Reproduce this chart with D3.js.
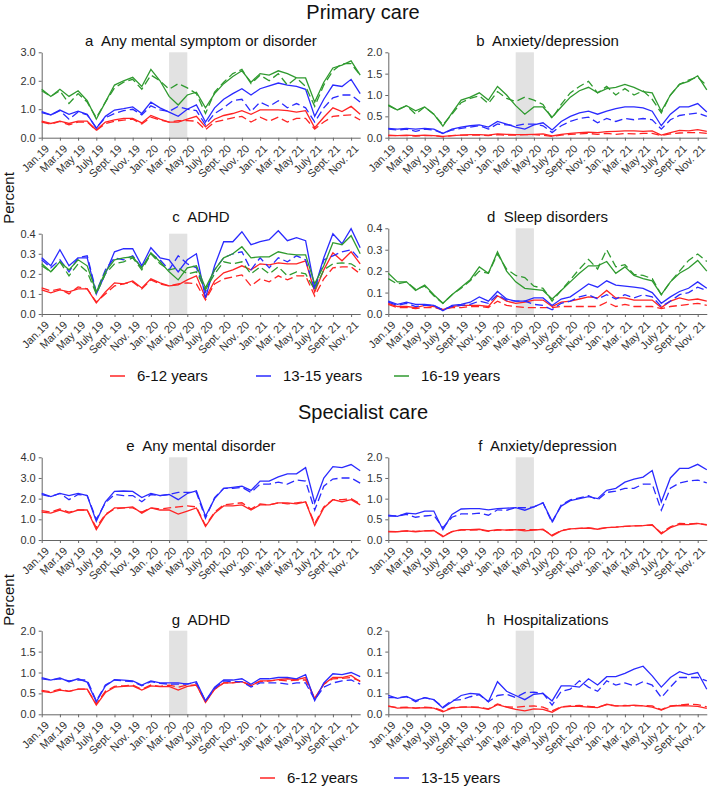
<!DOCTYPE html>
<html><head><meta charset="utf-8">
<script src="https://cdn.jsdelivr.net/npm/d3@7"></script>
<style>body{margin:0;background:#fff}svg{display:block;font-family:"Liberation Sans",Arial,sans-serif}</style>
</head><body><svg id="c" width="708" height="788"></svg>
<script>
// ---------- data ----------
const tickLabels = ["Jan.19","Mar.19","May 19","July 19","Sept. 19","Nov. 19","Jan. 20","Mar. 20","May 20","July 20","Sept. 20","Nov. 20","Jan. 21","Mar. 21","May 21","July 21","Sept. 21","Nov. 21"];
const groups = ["6-12 years","13-15 years","16-19 years"];
const groupColors = ["#ff2424","#2a2aff","#2f9a2f"];

// a Any mental symptom or disorder (primary care)
const a_red_obs = [0.58,0.50,0.58,0.50,0.58,0.58,0.27,0.55,0.63,0.68,0.68,0.52,0.78,0.65,0.55,0.55,0.65,0.75,0.38,0.65,0.78,0.85,0.95,0.82,0.98,0.98,0.98,0.95,0.90,0.95,0.35,0.72,1.05,0.92,1.10,0.82];
const a_red_exp = [0.55,0.48,0.57,0.45,0.55,0.55,0.25,0.50,0.58,0.62,0.65,0.48,0.72,0.62,0.55,0.60,0.60,0.58,0.28,0.55,0.62,0.70,0.75,0.55,0.72,0.58,0.72,0.55,0.68,0.68,0.30,0.55,0.75,0.78,0.80,0.62];
const a_blue_obs = [0.92,0.80,0.97,0.82,0.93,0.82,0.33,0.75,0.97,1.02,1.08,0.85,1.25,1.05,0.90,0.75,1.00,1.15,0.55,1.05,1.35,1.55,1.72,1.50,1.72,1.82,1.92,1.85,1.80,1.70,0.75,1.35,1.85,1.80,2.05,1.55];
const a_blue_exp = [0.88,0.80,0.95,0.65,0.90,0.80,0.35,0.70,0.85,0.95,1.00,0.80,1.12,0.98,0.92,1.10,1.00,0.95,0.45,0.85,1.05,1.30,1.35,0.92,1.25,1.10,1.30,1.05,1.20,1.05,0.55,1.05,1.40,1.50,1.50,1.25];
const a_green_obs = [1.70,1.45,1.70,1.45,1.65,1.30,0.65,1.25,1.85,2.00,2.12,1.80,2.40,2.00,1.45,1.15,1.50,1.60,1.05,1.55,1.90,2.15,2.35,1.95,2.25,2.20,2.35,2.25,2.10,2.10,1.25,1.95,2.45,2.55,2.70,2.20];
const a_green_exp = [1.65,1.45,1.65,1.20,1.55,1.25,0.70,1.25,1.75,1.95,2.05,1.70,2.20,2.00,1.70,1.90,1.75,1.55,0.85,1.60,1.95,2.25,2.40,1.90,2.20,2.00,2.25,1.85,2.10,1.80,1.10,1.85,2.35,2.60,2.60,2.20];

// b Anxiety/depression (primary care)
const b_red_obs = [0.06,0.05,0.06,0.05,0.06,0.05,0.03,0.05,0.06,0.07,0.07,0.06,0.09,0.08,0.07,0.07,0.08,0.09,0.04,0.08,0.10,0.12,0.13,0.12,0.14,0.15,0.16,0.16,0.15,0.16,0.06,0.12,0.17,0.16,0.19,0.15];
const b_red_exp = [0.05,0.05,0.05,0.04,0.05,0.05,0.02,0.05,0.06,0.06,0.06,0.05,0.07,0.06,0.06,0.07,0.07,0.06,0.03,0.06,0.08,0.09,0.10,0.08,0.10,0.08,0.10,0.09,0.10,0.10,0.05,0.09,0.11,0.12,0.12,0.10];
const b_blue_obs = [0.22,0.20,0.22,0.20,0.22,0.20,0.10,0.20,0.25,0.28,0.30,0.25,0.38,0.32,0.25,0.20,0.30,0.35,0.18,0.38,0.50,0.58,0.62,0.55,0.62,0.68,0.72,0.72,0.70,0.62,0.28,0.55,0.72,0.72,0.80,0.60];
const b_blue_exp = [0.20,0.18,0.20,0.15,0.20,0.18,0.10,0.18,0.22,0.25,0.28,0.20,0.32,0.30,0.28,0.32,0.32,0.28,0.12,0.28,0.38,0.45,0.48,0.35,0.45,0.38,0.45,0.42,0.45,0.42,0.20,0.42,0.52,0.55,0.58,0.50];
const b_green_obs = [0.77,0.65,0.75,0.63,0.72,0.55,0.27,0.58,0.88,0.95,1.05,0.88,1.20,1.00,0.75,0.55,0.72,0.72,0.48,0.72,0.95,1.10,1.18,1.05,1.15,1.18,1.25,1.18,1.08,1.05,0.62,1.00,1.25,1.32,1.45,1.12];
const b_green_exp = [0.75,0.65,0.75,0.55,0.72,0.55,0.30,0.55,0.82,0.92,0.98,0.80,1.08,0.92,0.85,0.95,0.88,0.78,0.45,0.78,1.05,1.20,1.32,1.05,1.20,1.00,1.15,1.00,1.10,0.90,0.58,1.00,1.25,1.35,1.42,1.22];

// c ADHD (primary care)
const c_red_obs = [0.12,0.105,0.12,0.11,0.125,0.125,0.055,0.11,0.155,0.15,0.165,0.13,0.175,0.155,0.14,0.145,0.17,0.19,0.08,0.165,0.205,0.22,0.24,0.22,0.25,0.245,0.255,0.25,0.25,0.265,0.11,0.22,0.305,0.265,0.31,0.25];
const c_red_exp = [0.13,0.115,0.125,0.10,0.135,0.125,0.06,0.10,0.14,0.15,0.16,0.125,0.17,0.15,0.14,0.15,0.155,0.15,0.07,0.15,0.175,0.185,0.195,0.14,0.175,0.16,0.19,0.17,0.19,0.19,0.09,0.175,0.23,0.235,0.235,0.20];
const c_blue_obs = [0.28,0.24,0.32,0.24,0.28,0.28,0.10,0.20,0.31,0.325,0.325,0.24,0.33,0.28,0.27,0.21,0.27,0.30,0.08,0.24,0.36,0.36,0.41,0.345,0.36,0.37,0.415,0.365,0.38,0.365,0.13,0.28,0.40,0.35,0.425,0.33];
const c_blue_exp = [0.27,0.23,0.27,0.21,0.28,0.29,0.11,0.22,0.28,0.27,0.29,0.23,0.30,0.27,0.22,0.29,0.25,0.23,0.11,0.22,0.28,0.30,0.31,0.22,0.28,0.23,0.28,0.26,0.29,0.27,0.12,0.27,0.29,0.31,0.32,0.27];
const c_green_obs = [0.25,0.21,0.26,0.22,0.27,0.24,0.11,0.21,0.27,0.28,0.285,0.23,0.305,0.26,0.21,0.17,0.23,0.24,0.13,0.22,0.28,0.30,0.335,0.28,0.285,0.285,0.31,0.30,0.295,0.295,0.15,0.24,0.355,0.345,0.39,0.30];
const c_green_exp = [0.24,0.21,0.26,0.19,0.25,0.21,0.10,0.20,0.25,0.26,0.28,0.22,0.30,0.25,0.22,0.23,0.20,0.21,0.12,0.20,0.26,0.25,0.26,0.20,0.235,0.20,0.235,0.19,0.21,0.20,0.12,0.22,0.25,0.255,0.25,0.22];

// d Sleep disorders (primary care)
const d_red_obs = [0.05,0.035,0.035,0.03,0.04,0.035,0.02,0.035,0.04,0.04,0.04,0.035,0.085,0.06,0.05,0.055,0.065,0.065,0.035,0.055,0.06,0.07,0.08,0.075,0.11,0.075,0.075,0.065,0.065,0.065,0.03,0.06,0.075,0.065,0.07,0.06];
const d_red_exp = [0.045,0.03,0.03,0.025,0.03,0.03,0.02,0.03,0.03,0.035,0.035,0.03,0.06,0.04,0.035,0.03,0.03,0.03,0.03,0.035,0.035,0.035,0.035,0.035,0.055,0.035,0.045,0.035,0.035,0.035,0.025,0.035,0.04,0.045,0.05,0.04];
const d_blue_obs = [0.06,0.045,0.055,0.045,0.045,0.04,0.015,0.04,0.045,0.055,0.08,0.06,0.105,0.07,0.06,0.06,0.075,0.075,0.04,0.07,0.08,0.11,0.14,0.125,0.155,0.135,0.13,0.125,0.12,0.10,0.05,0.08,0.105,0.12,0.15,0.12];
const d_blue_exp = [0.055,0.04,0.05,0.035,0.04,0.04,0.02,0.035,0.04,0.045,0.06,0.05,0.09,0.065,0.06,0.06,0.045,0.04,0.02,0.05,0.06,0.08,0.09,0.07,0.09,0.07,0.09,0.075,0.09,0.08,0.035,0.06,0.09,0.10,0.125,0.11];
const d_green_obs = [0.19,0.15,0.15,0.11,0.135,0.09,0.05,0.09,0.125,0.16,0.22,0.19,0.29,0.20,0.15,0.12,0.115,0.11,0.07,0.11,0.15,0.19,0.225,0.225,0.245,0.19,0.22,0.18,0.165,0.155,0.09,0.15,0.19,0.215,0.25,0.20];
const d_green_exp = [0.165,0.14,0.15,0.115,0.13,0.085,0.05,0.09,0.12,0.155,0.20,0.19,0.28,0.21,0.18,0.17,0.13,0.12,0.06,0.11,0.16,0.21,0.255,0.21,0.30,0.22,0.23,0.185,0.18,0.165,0.09,0.15,0.20,0.25,0.28,0.245];

// e Any mental disorder (specialist care)
const e_red_obs = [1.35,1.30,1.45,1.30,1.45,1.45,0.50,1.20,1.55,1.55,1.60,1.30,1.55,1.45,1.45,1.25,1.40,1.55,0.65,1.30,1.65,1.65,1.70,1.45,1.70,1.70,1.80,1.80,1.75,1.85,0.70,1.55,1.95,1.85,1.95,1.70];
const e_red_exp = [1.42,1.35,1.50,1.35,1.45,1.45,0.60,1.25,1.50,1.55,1.55,1.35,1.55,1.50,1.55,1.60,1.65,1.60,0.70,1.35,1.70,1.75,1.80,1.50,1.75,1.70,1.80,1.75,1.80,1.85,0.80,1.60,1.95,1.95,2.00,1.75];
const e_blue_obs = [2.25,2.10,2.25,2.15,2.25,2.15,0.90,1.85,2.35,2.37,2.35,2.05,2.25,2.15,2.20,1.95,2.25,2.38,1.15,2.00,2.50,2.55,2.60,2.40,2.85,2.85,3.05,3.20,3.20,3.50,1.80,3.00,3.55,3.50,3.65,3.35];
const e_blue_exp = [2.20,2.10,2.25,1.95,2.20,2.15,1.00,1.80,2.20,2.15,2.15,1.85,2.20,2.15,2.20,2.30,2.30,2.30,1.05,2.05,2.50,2.50,2.55,2.30,2.70,2.70,2.80,2.70,2.90,2.85,1.45,2.60,2.95,3.00,3.00,2.75];

// f Anxiety/depression (specialist care)
const f_red_obs = [0.20,0.20,0.22,0.20,0.22,0.23,0.08,0.20,0.25,0.25,0.26,0.22,0.25,0.24,0.25,0.22,0.24,0.26,0.10,0.22,0.27,0.28,0.29,0.26,0.30,0.31,0.33,0.34,0.35,0.37,0.15,0.30,0.38,0.37,0.40,0.36];
const f_red_exp = [0.21,0.20,0.22,0.21,0.22,0.23,0.10,0.20,0.24,0.24,0.25,0.21,0.24,0.24,0.25,0.25,0.25,0.25,0.12,0.23,0.27,0.28,0.29,0.27,0.30,0.31,0.33,0.34,0.35,0.36,0.17,0.32,0.40,0.39,0.40,0.37];
const f_blue_obs = [0.60,0.57,0.65,0.63,0.70,0.70,0.25,0.62,0.75,0.76,0.76,0.73,0.76,0.77,0.78,0.72,0.80,0.90,0.45,0.82,0.95,1.00,1.05,1.00,1.20,1.25,1.40,1.47,1.52,1.68,0.92,1.50,1.73,1.73,1.83,1.70];
const f_blue_exp = [0.58,0.58,0.62,0.55,0.58,0.60,0.30,0.55,0.63,0.63,0.65,0.60,0.73,0.72,0.78,0.78,0.80,0.90,0.42,0.85,0.97,1.02,1.07,0.97,1.15,1.18,1.25,1.25,1.35,1.35,0.72,1.25,1.38,1.43,1.45,1.38];

// g ADHD (specialist care)
const g_red_obs = [0.55,0.52,0.58,0.55,0.60,0.60,0.22,0.52,0.65,0.67,0.68,0.58,0.68,0.66,0.67,0.58,0.67,0.70,0.28,0.60,0.75,0.75,0.78,0.68,0.80,0.80,0.83,0.85,0.83,0.88,0.38,0.72,0.88,0.88,0.93,0.78];
const g_red_exp = [0.57,0.54,0.60,0.55,0.60,0.60,0.25,0.55,0.67,0.68,0.70,0.60,0.70,0.67,0.70,0.65,0.70,0.70,0.30,0.60,0.75,0.76,0.78,0.70,0.78,0.80,0.82,0.80,0.82,0.82,0.38,0.72,0.85,0.86,0.88,0.80];
const g_blue_obs = [0.88,0.82,0.87,0.78,0.85,0.77,0.30,0.68,0.83,0.82,0.80,0.70,0.80,0.75,0.75,0.75,0.72,0.78,0.32,0.65,0.82,0.82,0.85,0.72,0.85,0.85,0.88,0.88,0.85,0.95,0.33,0.75,0.97,0.95,1.00,0.90];
const g_blue_exp = [0.85,0.82,0.85,0.80,0.82,0.82,0.32,0.70,0.82,0.80,0.78,0.68,0.78,0.74,0.72,0.72,0.73,0.75,0.32,0.62,0.80,0.78,0.78,0.65,0.75,0.75,0.75,0.72,0.75,0.75,0.35,0.65,0.75,0.80,0.82,0.72];

// h Hospitalizations (specialist care)
const h_red_obs = [0.020,0.015,0.016,0.015,0.016,0.015,0.006,0.015,0.017,0.017,0.016,0.012,0.023,0.017,0.012,0.008,0.013,0.012,0.005,0.017,0.019,0.019,0.017,0.016,0.024,0.020,0.020,0.022,0.020,0.017,0.010,0.019,0.021,0.020,0.019,0.014];
const h_red_exp = [0.019,0.016,0.017,0.015,0.017,0.016,0.008,0.016,0.017,0.018,0.017,0.013,0.025,0.018,0.017,0.019,0.020,0.017,0.008,0.018,0.020,0.021,0.019,0.017,0.023,0.020,0.021,0.020,0.021,0.020,0.011,0.020,0.022,0.024,0.023,0.018];
const h_blue_obs = [0.045,0.038,0.043,0.033,0.040,0.035,0.015,0.030,0.045,0.050,0.048,0.030,0.078,0.055,0.045,0.035,0.048,0.050,0.032,0.068,0.068,0.065,0.085,0.070,0.090,0.090,0.098,0.108,0.115,0.092,0.065,0.088,0.102,0.095,0.100,0.060];
const h_blue_exp = [0.040,0.040,0.042,0.030,0.040,0.035,0.017,0.033,0.035,0.042,0.047,0.030,0.045,0.048,0.040,0.052,0.053,0.050,0.022,0.055,0.060,0.080,0.065,0.055,0.080,0.070,0.075,0.068,0.078,0.070,0.040,0.065,0.088,0.088,0.088,0.080];

// ---------- layout ----------
const svg = d3.select("#c");
const step = 9.1;
const colX = [41.7, 388.3];
const shadeFrom = 14, shadeTo = 16; // Mar 20 – May 20

const panels = [
  {title:"a  Any mental symptom or disorder", col:0, top:52.3, bot:137.7, ty:46, max:3, ticks:[0,1,2,3], s:[[a_red_obs,a_red_exp],[a_blue_obs,a_blue_exp],[a_green_obs,a_green_exp]]},
  {title:"b  Anxiety/depression", col:1, top:52.3, bot:137.7, ty:46, max:2, ticks:[0,0.5,1,1.5,2], s:[[b_red_obs,b_red_exp],[b_blue_obs,b_blue_exp],[b_green_obs,b_green_exp]]},
  {title:"c  ADHD", col:0, top:233.7, bot:314, ty:222, max:0.4, ticks:[0,0.1,0.2,0.3,0.4], s:[[c_red_obs,c_red_exp],[c_blue_obs,c_blue_exp],[c_green_obs,c_green_exp]]},
  {title:"d  Sleep disorders", col:1, top:228.3, bot:314, ty:222, max:0.4, ticks:[0,0.1,0.2,0.3,0.4], s:[[d_red_obs,d_red_exp],[d_blue_obs,d_blue_exp],[d_green_obs,d_green_exp]]},
  {title:"e  Any mental disorder", col:0, top:457.3, bot:540, ty:451, max:4, ticks:[0,1,2,3,4], s:[[e_red_obs,e_red_exp],[e_blue_obs,e_blue_exp]]},
  {title:"f  Anxiety/depression", col:1, top:457.3, bot:540, ty:451, max:2, ticks:[0,0.5,1,1.5,2], s:[[f_red_obs,f_red_exp],[f_blue_obs,f_blue_exp]]},
  {title:"g  ADHD", col:0, top:630.7, bot:714.3, ty:625, max:2, ticks:[0,0.5,1,1.5,2], s:[[g_red_obs,g_red_exp],[g_blue_obs,g_blue_exp]]},
  {title:"h  Hospitalizations", col:1, top:630.7, bot:714.3, ty:625, max:0.2, ticks:[0,0.05,0.1,0.15,0.2], s:[[h_red_obs,h_red_exp],[h_blue_obs,h_blue_exp]]}
];

const fmt = d3.format(".1f");
panels.forEach(p => {
  const x0 = colX[p.col];
  const x = d3.scaleLinear().domain([0,35]).range([x0, x0 + 35*step]);
  const y = d3.scaleLinear().domain([0,p.max]).range([p.bot, p.top]);
  const g = svg.append("g");
  g.append("rect").attr("x", x(shadeFrom)).attr("y", p.top)
    .attr("width", x(shadeTo)-x(shadeFrom)).attr("height", p.bot-p.top).attr("fill","#e2e2e2");
  const ya = g.append("g").attr("transform",`translate(${x0},0)`)
    .call(d3.axisLeft(y).tickValues(p.ticks).tickFormat(fmt).tickSize(3).tickPadding(3).tickSizeOuter(0));
  const xa = g.append("g").attr("transform",`translate(0,${p.bot})`)
    .call(d3.axisBottom(x).tickValues(d3.range(0,36,2)).tickFormat(i=>tickLabels[i/2]).tickSize(3).tickSizeOuter(0));
  [ya,xa].forEach(a=>{
    a.selectAll("path,line").attr("stroke","#666").attr("stroke-width",1);
    a.selectAll("text").attr("fill","#333").style("font-size","11px").style("font-family",'"Liberation Sans",Arial,sans-serif');
  });
  xa.selectAll("text")
    .attr("text-anchor","end").attr("y",0).attr("dy","0.72em")
    .attr("transform","translate(2,6) rotate(-45)");
  g.append("text").attr("x",(x.range()[0]+x.range()[1])/2).attr("y",p.ty)
    .attr("text-anchor","middle").style("font-size","15px").style("white-space","pre").attr("fill","#111")
    .text(p.title);
  const line = d3.line().x((d,i)=>x(i)).y(d=>y(d));
  p.s.forEach((pair,gi)=>{
    g.append("path").attr("d", line(pair[1])).attr("fill","none")
      .attr("stroke",groupColors[gi]).attr("stroke-width",1.3).attr("stroke-dasharray","8,4");
    g.append("path").attr("d", line(pair[0])).attr("fill","none")
      .attr("stroke",groupColors[gi]).attr("stroke-width",1.3);
  });
});

svg.append("text").attr("x",363).attr("y",19).attr("text-anchor","middle").style("font-size","20px").attr("fill","#111").text("Primary care");
svg.append("text").attr("x",363).attr("y",419).attr("text-anchor","middle").style("font-size","20px").attr("fill","#111").text("Specialist care");

[[198],[600]].forEach(([cy])=>{
  svg.append("text").attr("transform",`translate(14,${cy}) rotate(-90)`).attr("text-anchor","middle")
    .style("font-size","15px").attr("fill","#111").text("Percent");
});

function legend(items, ly){
  items.forEach(([gi, lx])=>{
    svg.append("line").attr("x1",lx).attr("x2",lx+15).attr("y1",ly).attr("y2",ly)
      .attr("stroke",groupColors[gi]).attr("stroke-width",1.5);
    svg.append("text").attr("x",lx+27).attr("y",ly).attr("dy","0.35em").style("font-size","15px").attr("fill","#111").text(groups[gi]);
  });
}
legend([[0,110],[1,256],[2,394]], 376);
legend([[0,260],[1,394]], 778);
</script></body></html>
